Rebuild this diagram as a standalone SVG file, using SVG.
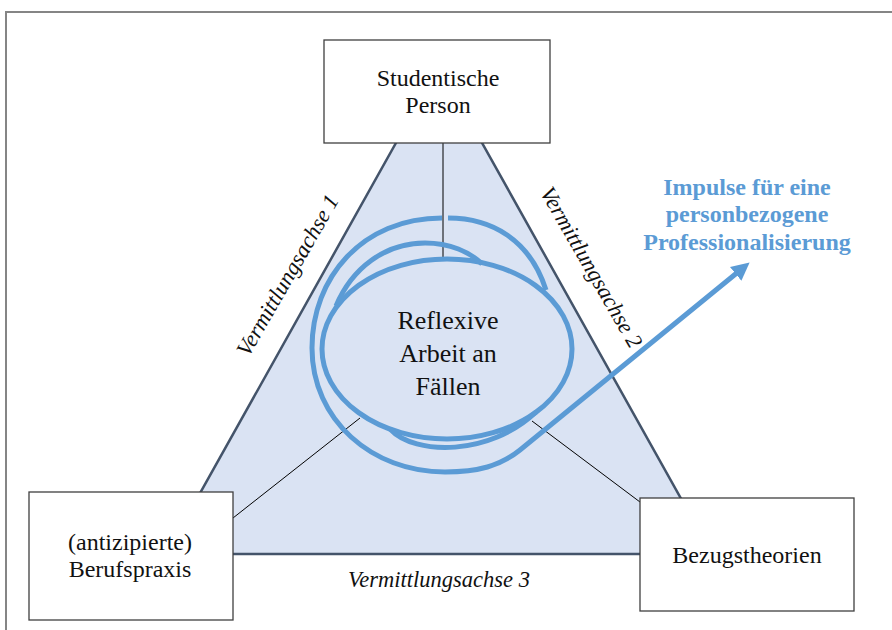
<svg xmlns="http://www.w3.org/2000/svg" width="892" height="630" viewBox="0 0 892 630">
  <defs>
    <marker id="arrowHead" markerUnits="userSpaceOnUse" markerWidth="18" markerHeight="18" refX="3" refY="9" orient="auto">
      <path d="M0,0 L18,9 L0,18 z" fill="#5B9BD5"/>
    </marker>
    <style>
      .frame { fill: none; stroke: #858585; stroke-width: 2; }
      .tri { fill: #DAE3F3; stroke: #44546A; stroke-width: 2.5; stroke-linejoin: miter; }
      .box { fill: #FFFFFF; stroke: #3F3F3F; stroke-width: 1.3; }
      .link { fill: none; stroke: #000000; stroke-width: 1; }
      .spiral { fill: none; stroke: #5B9BD5; stroke-width: 5; stroke-linecap: butt; }
      .lbl { font-family: "Liberation Serif", "Times New Roman", serif; font-size: 24px; fill: #111111; text-anchor: middle; }
      .core { font-size: 26px; }
      .axis { font-family: "Liberation Serif", "Times New Roman", serif; font-size: 22.5px; font-style: italic; fill: #111111; text-anchor: middle; }
      .impulse { font-family: "Liberation Serif", "Times New Roman", serif; font-size: 24px; font-weight: bold; fill: #5B9BD5; text-anchor: middle; }
    </style>
  </defs>

  <!-- page frame -->
  <path class="frame" d="M6,630 L6,12 L892,12"/>

  <!-- mediation triangle -->
  <g id="triangle">
    <polygon class="tri" points="439,66 712,554 166,554"/>
  </g>

  <!-- axis labels -->
  <text class="axis" transform="translate(294,279) rotate(-60)">Vermittlungsachse 1</text>
  <text class="axis" transform="translate(585,271) rotate(60)">Vermittlungsachse 2</text>
  <text class="axis" x="439" y="587">Vermittlungsachse 3</text>

  <!-- connectors -->
  <g id="connectors">
    <line class="link" x1="443" y1="143" x2="443" y2="258"/>
    <line class="link" x1="233" y1="518" x2="360" y2="418"/>
    <line class="link" x1="532" y1="421" x2="640" y2="502"/>
  </g>

  <!-- reflexive spiral -->
  <g id="spiral">
    <ellipse class="spiral" cx="447" cy="349" rx="125" ry="90"/>
    <path class="spiral" d="M336,306 C352,268 385,243 425,243 C450,243 470,252 482,264"/>
    <path class="spiral" d="M390,429 C415,456 490,456 536,412"/>
    <path class="spiral" d="M448,218 C492,218 530,240 546,290"/>
    <path class="spiral" d="M442,218 C362,218 312,278 312,348 C312,420 372,472 445,472 C478,472 500,466 520,450 L738,272" marker-end="url(#arrowHead)"/>
    <text class="lbl core" x="448" y="329">Reflexive</text>
    <text class="lbl core" x="448" y="362">Arbeit an</text>
    <text class="lbl core" x="448" y="395">Fällen</text>
  </g>

  <!-- outcome label -->
  <g id="impulse">
    <text class="impulse" x="747" y="195">Impulse für eine</text>
    <text class="impulse" x="747" y="222">personbezogene</text>
    <text class="impulse" x="747" y="250">Professionalisierung</text>
  </g>

  <!-- corner nodes -->
  <g id="person">
    <rect class="box" x="324" y="40" width="226" height="103"/>
    <text class="lbl" x="438" y="86">Studentische</text>
    <text class="lbl" x="438" y="113">Person</text>
  </g>
  <g id="praxis">
    <rect class="box" x="29" y="492" width="204" height="128"/>
    <text class="lbl" x="130" y="550">(antizipierte)</text>
    <text class="lbl" x="130" y="577">Berufspraxis</text>
  </g>
  <g id="theorien">
    <rect class="box" x="640" y="498" width="214" height="113"/>
    <text class="lbl" x="747" y="563">Bezugstheorien</text>
  </g>
</svg>
